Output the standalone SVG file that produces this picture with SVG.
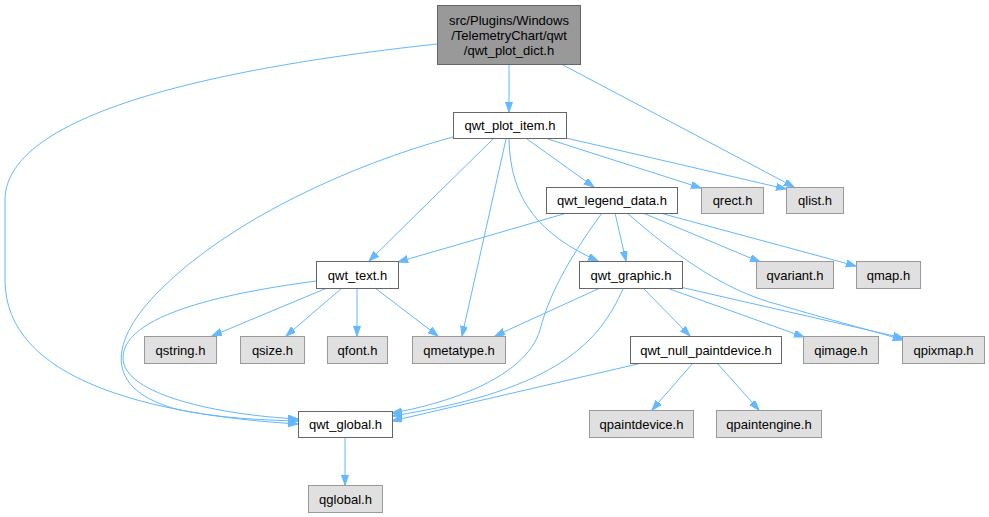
<svg xmlns="http://www.w3.org/2000/svg" width="989" height="517" viewBox="0 0 989 517">
<style>
text{font-family:"Liberation Sans",Arial,sans-serif;font-size:13px;fill:#000;text-anchor:middle}
.w rect{fill:#fff;stroke:#666;stroke-width:1}
.g rect{fill:#e0e0e0;stroke:#999;stroke-width:1}
.top rect{fill:#999;stroke:#666;stroke-width:1}
#edges path{fill:none;stroke:#63b8ff;stroke-width:1;marker-end:url(#a)}
</style>
<defs>
<marker id="a" markerWidth="11" markerHeight="8" refX="10" refY="3.5" orient="auto" markerUnits="userSpaceOnUse">
<path d="M0,0 L10,3.5 L0,7 z" fill="#63b8ff" stroke="#63b8ff" stroke-width="1"/>
</marker>
</defs>
<rect width="989" height="517" fill="#fff"/>
<g id="edges">
<path d="M509,64 L509,112"/>
<path d="M563,65 L794,187"/>
<path d="M437,44 C290,60 5,100 5,200 L5,280 C5,380 150,415 298,424"/>
<path d="M453,137 C350,165 230,220 160,290 C110,340 100,390 180,410 C220,418 260,420 298,421"/>
<path d="M493,139 L369,261"/>
<path d="M506,139 L462,336"/>
<path d="M509,139 C510,200 540,235 598,261"/>
<path d="M527,139 L594,187"/>
<path d="M548,139 L701,188"/>
<path d="M566,138 L786,189"/>
<path d="M567,213 L398,262"/>
<path d="M602,213 C575,250 550,290 540,330 C525,380 440,405 392,413"/>
<path d="M615,213 L626,261"/>
<path d="M643,213 L760,262"/>
<path d="M660,213 L856,266"/>
<path d="M627,213 C670,250 720,290 780,305 C830,320 870,330 903,340"/>
<path d="M316,281 C250,290 123,310 123,358 C123,395 220,415 298,419"/>
<path d="M327,288 L212,336"/>
<path d="M342,288 L286,336"/>
<path d="M357,288 L357,336"/>
<path d="M375,288 L438,336"/>
<path d="M600,288 L495,336"/>
<path d="M623,289 C600,340 560,390 392,416"/>
<path d="M643,288 L690,336"/>
<path d="M667,288 L804,337"/>
<path d="M680,287 L903,338"/>
<path d="M642,363 L392,421"/>
<path d="M693,363 L652,410"/>
<path d="M717,363 L759,410"/>
<path d="M345,437 L345,485"/>
</g>
<g id="qwt_plot_dict" class="top"><rect x="437.5" y="5.5" width="143" height="59"/><text x="509" y="25">src/Plugins/Windows</text><text x="509" y="40">/TelemetryChart/qwt</text><text x="509" y="55">/qwt_plot_dict.h</text></g>
<g id="qwt_plot_item" class="w"><rect x="453.5" y="112.5" width="113" height="26"/><text x="510" y="130">qwt_plot_item.h</text></g>
<g id="qwt_legend_data" class="w"><rect x="546.5" y="187.5" width="131" height="26"/><text x="612" y="205">qwt_legend_data.h</text></g>
<g id="qrect" class="g"><rect x="701.5" y="187.5" width="62" height="26"/><text x="732.5" y="205">qrect.h</text></g>
<g id="qlist" class="g"><rect x="786.5" y="187.5" width="57" height="26"/><text x="815" y="205">qlist.h</text></g>
<g id="qwt_text" class="w"><rect x="316.5" y="261.5" width="82" height="27"/><text x="357.5" y="280">qwt_text.h</text></g>
<g id="qwt_graphic" class="w"><rect x="579.5" y="261.5" width="103" height="27"/><text x="631" y="280">qwt_graphic.h</text></g>
<g id="qvariant" class="g"><rect x="756.5" y="261.5" width="77" height="27"/><text x="795" y="280">qvariant.h</text></g>
<g id="qmap" class="g"><rect x="856.5" y="261.5" width="64" height="27"/><text x="888.5" y="280">qmap.h</text></g>
<g id="qstring" class="g"><rect x="144.5" y="336.5" width="72" height="27"/><text x="180.5" y="355">qstring.h</text></g>
<g id="qsize" class="g"><rect x="240.5" y="336.5" width="64" height="27"/><text x="272.5" y="355">qsize.h</text></g>
<g id="qfont" class="g"><rect x="327.5" y="336.5" width="60" height="27"/><text x="357.5" y="355">qfont.h</text></g>
<g id="qmetatype" class="g"><rect x="412.5" y="336.5" width="93" height="27"/><text x="459" y="355">qmetatype.h</text></g>
<g id="qwt_null_paintdevice" class="w"><rect x="630.5" y="336.5" width="151" height="27"/><text x="706" y="355">qwt_null_paintdevice.h</text></g>
<g id="qimage" class="g"><rect x="803.5" y="336.5" width="75" height="27"/><text x="841" y="355">qimage.h</text></g>
<g id="qpixmap" class="g"><rect x="902.5" y="336.5" width="82" height="27"/><text x="943.5" y="355">qpixmap.h</text></g>
<g id="qwt_global" class="w"><rect x="298.5" y="411.5" width="94" height="26"/><text x="345.5" y="429">qwt_global.h</text></g>
<g id="qpaintdevice" class="g"><rect x="589.5" y="410.5" width="104" height="27"/><text x="641.5" y="429">qpaintdevice.h</text></g>
<g id="qpaintengine" class="g"><rect x="716.5" y="410.5" width="105" height="27"/><text x="769" y="429">qpaintengine.h</text></g>
<g id="qglobal" class="g"><rect x="308.5" y="485.5" width="74" height="27"/><text x="345.5" y="504">qglobal.h</text></g>
</svg>
